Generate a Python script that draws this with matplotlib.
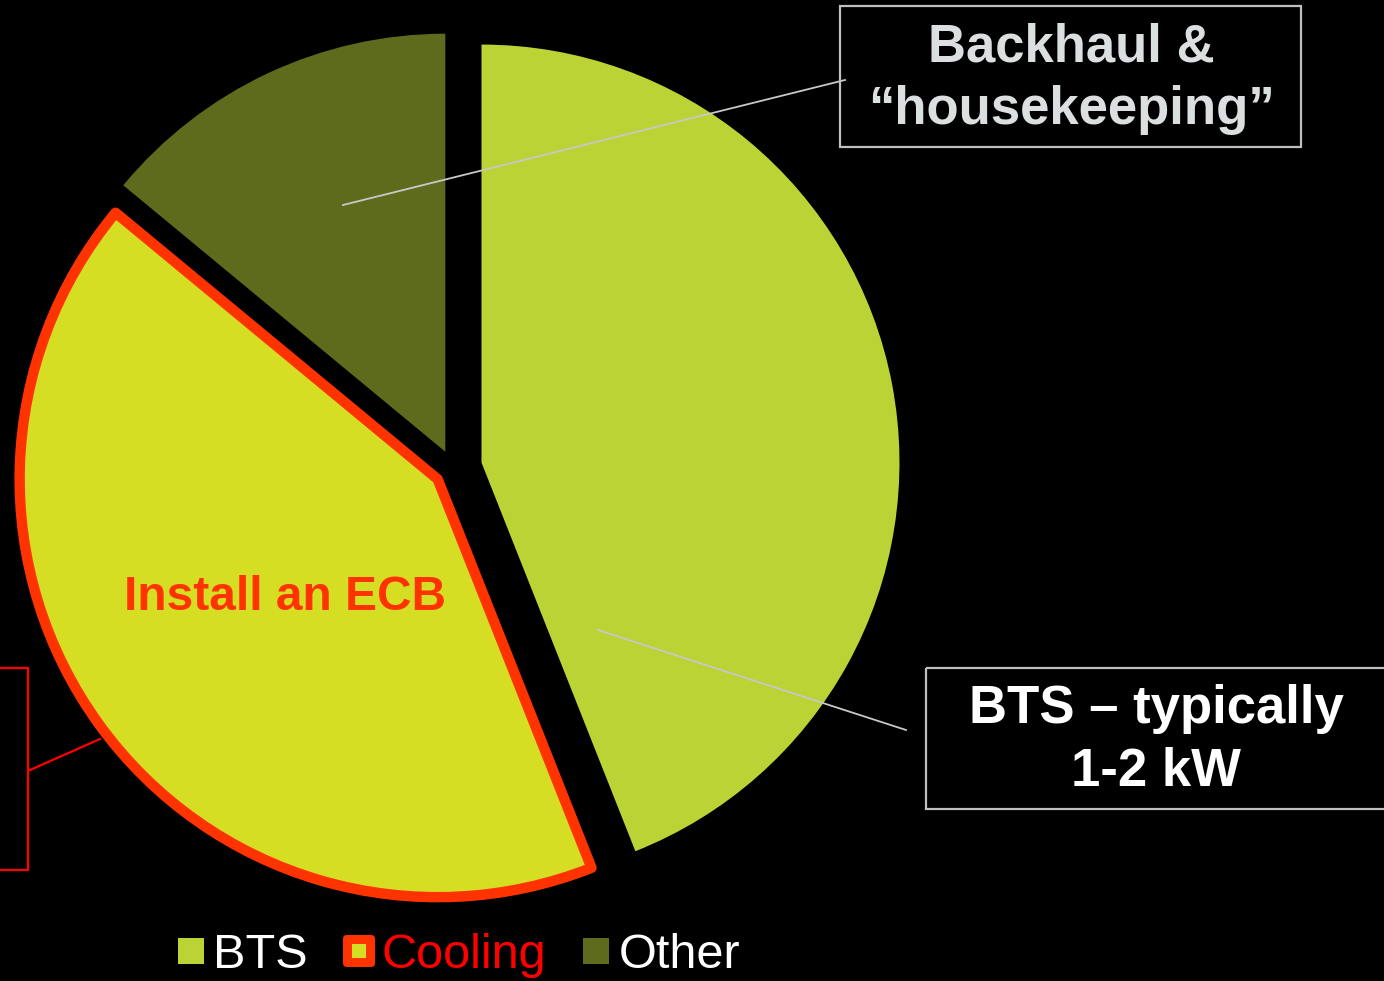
import matplotlib
matplotlib.use('Agg')
import matplotlib.pyplot as plt
from matplotlib.patches import Rectangle, FancyBboxPatch

plt.rcParams['font.family'] = ['Liberation Sans', 'DejaVu Sans']

# data
labels = ['BTS', 'Cooling', 'Other']
shares = [44, 42, 14]
colors = ['#BBD335', '#D6DE23', '#5E6B1C']
label_colors = ['white', '#FF0000', 'white']

W, H = 1384, 981
fig = plt.figure(figsize=(W / 100, H / 100), dpi=100)
fig.patch.set_facecolor('black')
ax = fig.add_axes([0, 0, 1, 1])
ax.set_facecolor('black')

# y axis inverted -> start at 270 and go counterclock in data = clockwise on screen
wedges, _ = ax.pie(shares, colors=colors, radius=418, center=(453, 468),
                   startangle=270, counterclock=True, explode=[29, 19, 18],
                   wedgeprops=dict(linewidth=0))
wedges[1].set_edgecolor('#FF3300')
wedges[1].set_linewidth(7.5)
wedges[1].set_joinstyle('round')

ax.set_xlim(0, W)
ax.set_ylim(H, 0)
ax.set_aspect('equal')
ax.axis('off')

# leader lines
ax.plot([343, 845], [205, 80], color='#C8C8C8', lw=1.3, zorder=5)
ax.plot([598, 906], [630, 730], color='#C8C8C8', lw=1.3, zorder=5)
ax.plot([30, 100], [770, 739], color='#FF0000', lw=1.6, zorder=5)

# callout boxes
ax.add_patch(Rectangle((840, 6), 461, 141, fill=False, edgecolor='#BFBFBF', lw=1.6, zorder=5))
ax.text(1071, 48, 'Backhaul &', fontsize=38, fontweight='bold', color='#DCDFE0',
        ha='center', va='center', zorder=6)
ax.text(1071, 110, '\u201chousekeeping\u201d', fontsize=38, fontweight='bold', color='#DCDFE0',
        ha='center', va='center', zorder=6)

ax.add_patch(Rectangle((926, 668), 480, 141, fill=False, edgecolor='#BFBFBF', lw=1.6,
                       zorder=5, clip_on=True))
ax.text(1156, 709, 'BTS \u2013 typically', fontsize=38, fontweight='bold', color='white',
        ha='center', va='center', zorder=6)
ax.text(1156, 772, '1-2 kW', fontsize=38, fontweight='bold', color='white',
        ha='center', va='center', zorder=6)

ax.add_patch(Rectangle((-20, 668), 48, 202, fill=False, edgecolor='#FF0000', lw=1.6, zorder=5))

ax.text(285, 597, 'Install an ECB', fontsize=34.5, fontweight='bold', color='#FF3300',
        ha='center', va='center', zorder=6)

# legend
ax.add_patch(Rectangle((178, 938), 26, 26, facecolor=colors[0], edgecolor='none', zorder=6))
ax.add_patch(FancyBboxPatch((343, 935), 32, 32, boxstyle='round,pad=0,rounding_size=4',
                            facecolor='#FF3300', edgecolor='none', zorder=6))
ax.add_patch(Rectangle((352, 944), 14, 14, facecolor=colors[1], edgecolor='none', zorder=7))
ax.add_patch(Rectangle((583, 938), 26, 26, facecolor=colors[2], edgecolor='none', zorder=6))
for x, lab, c in zip([213, 382, 619], labels, label_colors):
    ax.text(x, 968, lab, fontsize=35, color=c, ha='left', va='baseline', zorder=6)

plt.savefig('out.png', dpi=100, facecolor='black')
plt.close()
